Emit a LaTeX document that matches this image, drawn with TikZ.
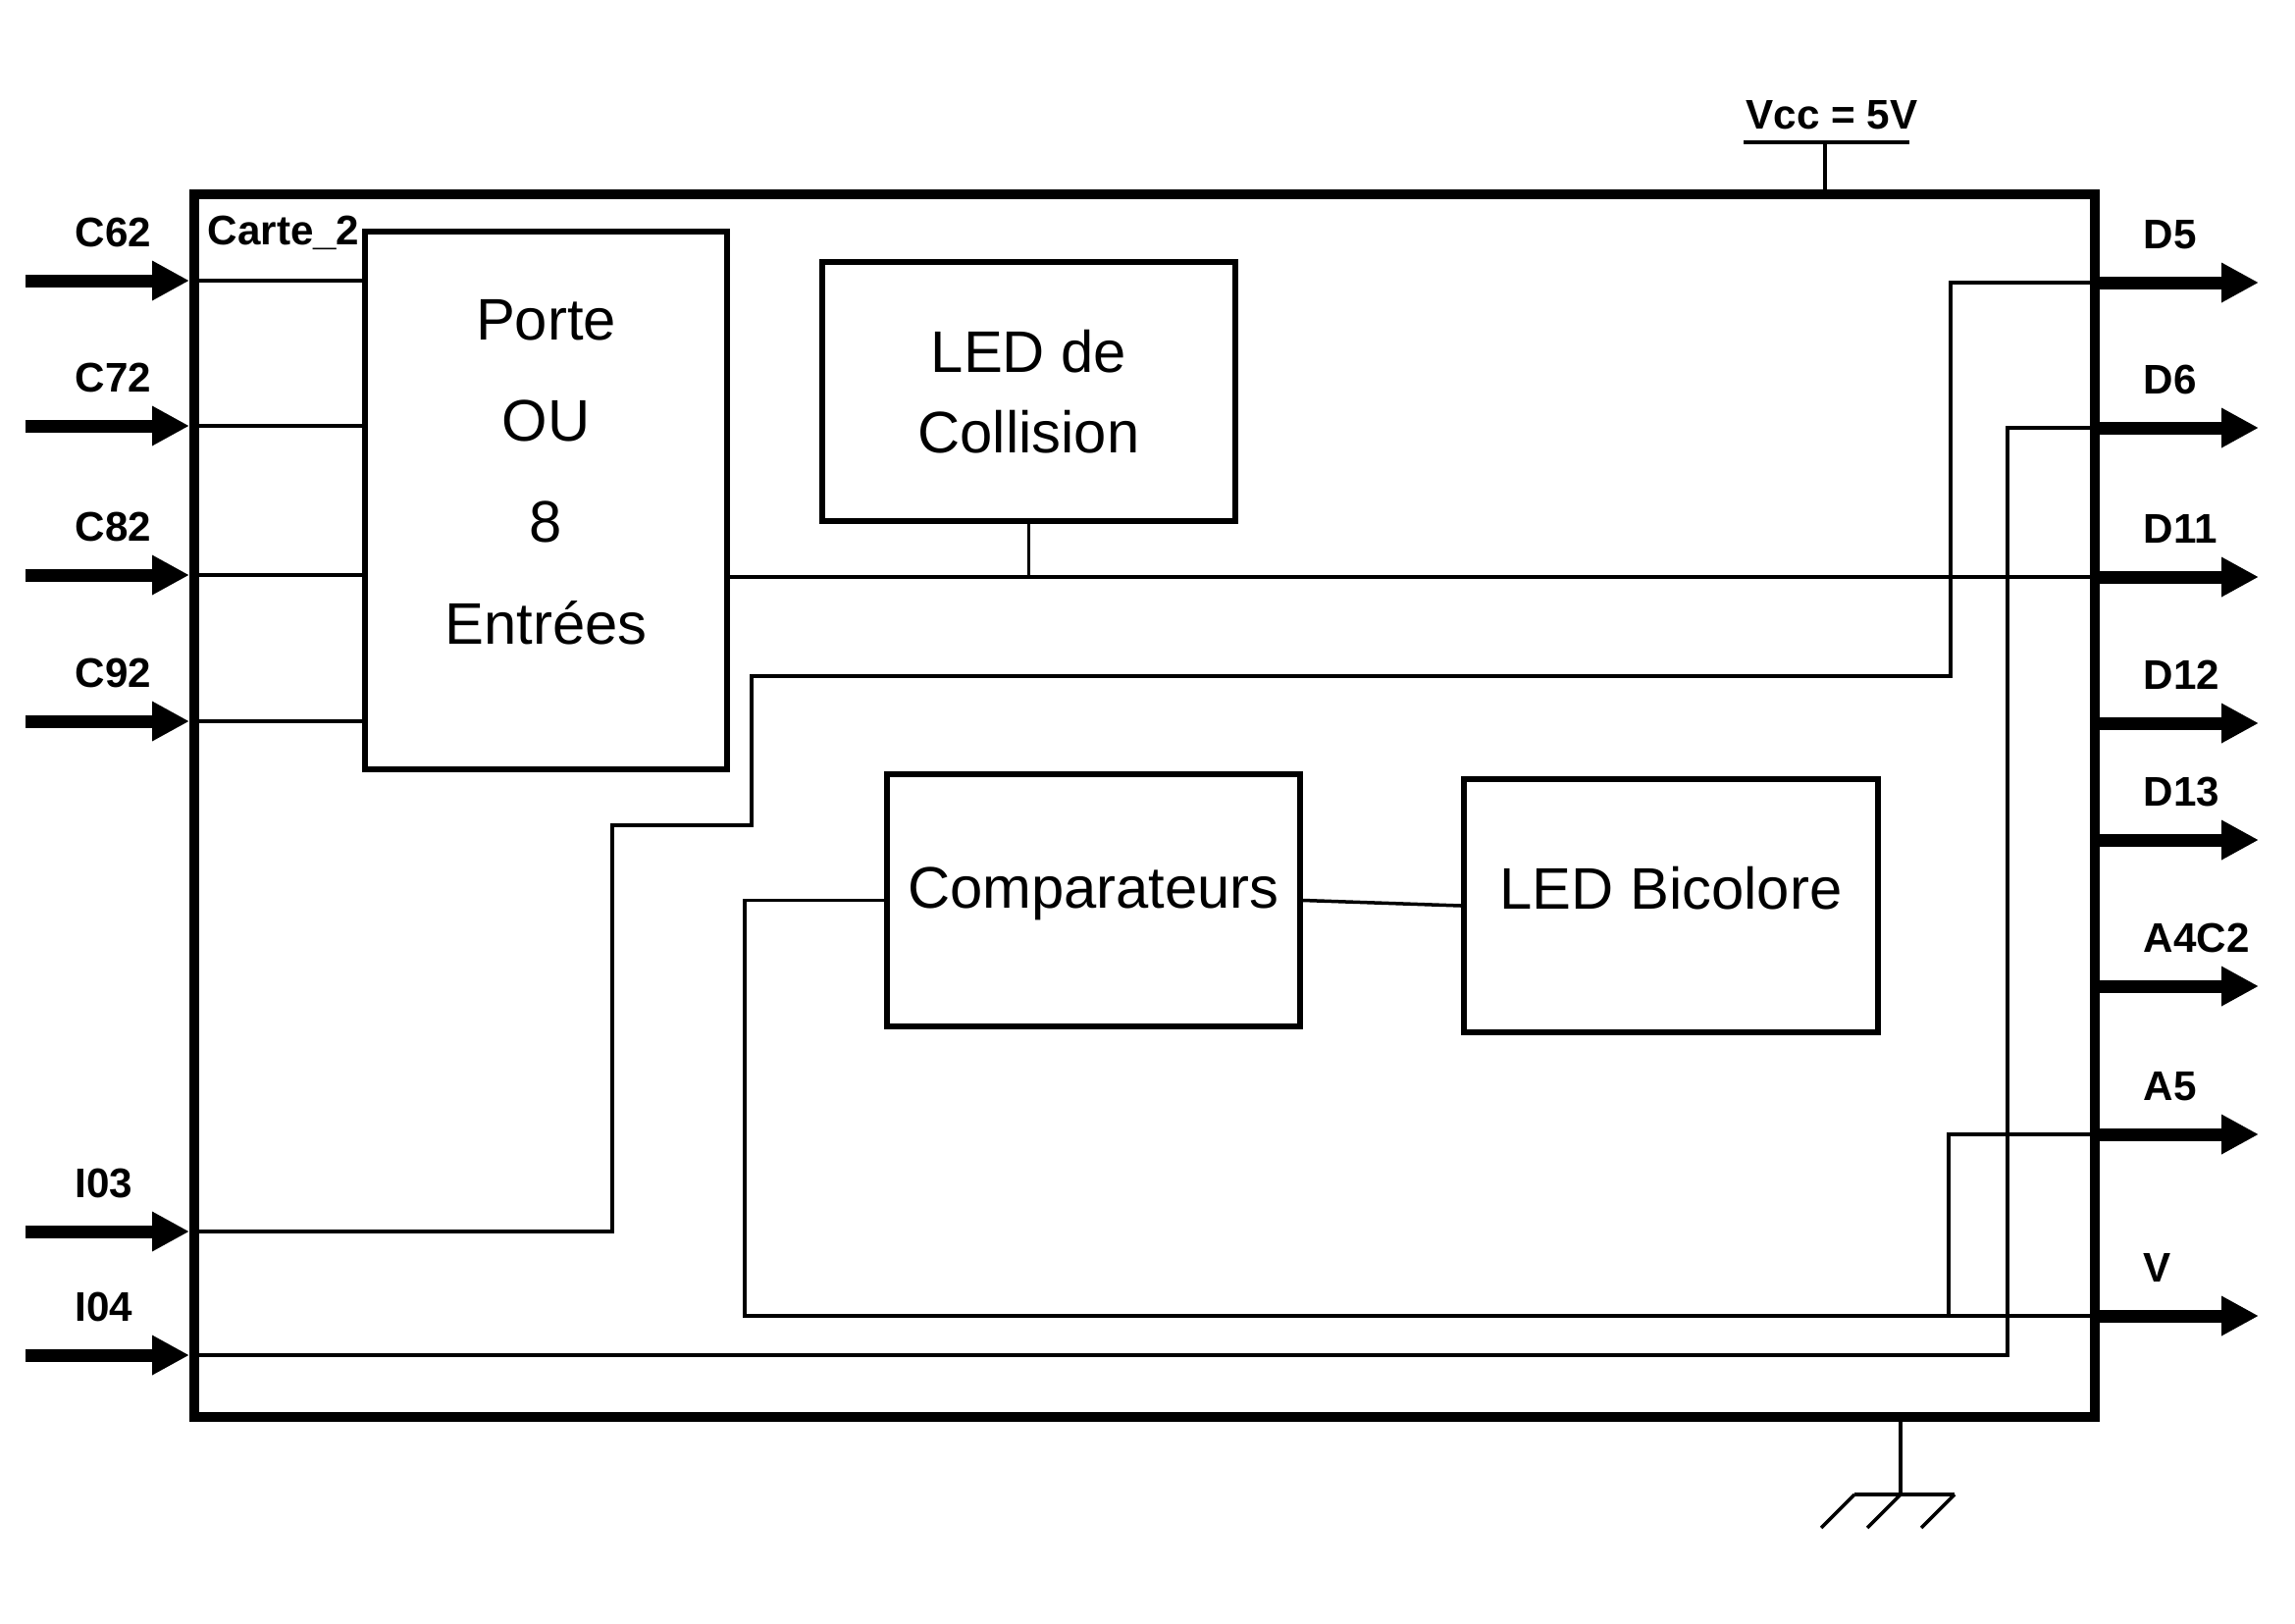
\documentclass[tikz,border=0pt]{standalone}
\usepackage{fontspec}
\setmainfont{Liberation Sans}
\usetikzlibrary{positioning,arrows.meta,calc}

\begin{document}
\begin{tikzpicture}[
    cardFrame/.style={rectangle, draw, line width=1mm, minimum width=19.37cm, minimum height=12.46cm, inner sep=0pt},
    blocBox/.style={rectangle, draw, line width=0.6mm, inner sep=0pt, align=center, font=\fontsize{17}{29.4}\selectfont},
    pinArrow/.style={line width=1.3mm, -{Triangle[length=3.8mm, width=3.8mm]}},
    pinLabel/.style={anchor=base west, inner sep=0pt, font=\fontsize{12}{14}\selectfont\bfseries},
    wire/.style={line width=0.35mm}
]
    \useasboundingbox (0,0) rectangle (23.39,-16.54);

    \node[cardFrame] (carte) at (11.665,-8.21) {};
    \node[pinLabel] (carteName) at (2.11,-2.49) {Carte\_2};

    \node[blocBox, minimum width=3.69cm, minimum height=5.48cm, text depth=0.59cm] (porte) at (5.565,-5.10) {Porte\\OU\\8\\Entrées};
    \node[blocBox, minimum width=4.21cm, minimum height=2.64cm, font=\fontsize{17}{23.3}\selectfont] (ledCol) at (10.485,-3.99) {LED de\\Collision};
    \node[blocBox, minimum width=4.21cm, minimum height=2.57cm, text depth=0.26cm] (comp) at (11.145,-9.175) {Comparateurs};
    \node[blocBox, minimum width=4.22cm, minimum height=2.58cm, text depth=0.36cm] (ledBi) at (17.03,-9.23) {LED Bicolore};

    \foreach \pin/\y in {C62/2.86, C72/4.34, C82/5.86, C92/7.35, I03/12.55, I04/13.81}{
        \coordinate (p\pin) at (0.26,-\y);
        \draw[pinArrow] (p\pin) -- (p\pin -| carte.west);
        \node[pinLabel] (l\pin) at ([shift={(0.50,0.35)}]p\pin) {\pin};
    }
    \foreach \pin/\y in {D5/2.88, D6/4.36, D11/5.88, D12/7.37, D13/8.56, A4C2/10.05, A5/11.56, V/13.41}{
        \coordinate (q\pin) at (23.02,-\y);
        \draw[pinArrow] (q\pin -| carte.east) -- (q\pin);
        \node[pinLabel] (r\pin) at ([shift={(-1.18,0.35)}]q\pin) {\pin};
    }

    \foreach \pin in {C62,C72,C82,C92}
        \draw[wire] (p\pin -| carte.west) -- (p\pin -| porte.west);
    \draw[wire] (porte.east |- qD11) -- (qD11 -| carte.east);
    \draw[wire] (ledCol.south) -- (ledCol.south |- qD11);
    \draw[wire] (pI03 -| carte.west) -- (6.24,-12.55) |- (7.66,-8.41) |- (19.88,-6.89) |- (qD5 -| carte.east);
    \draw[wire] (comp.west) -| (7.59,-13.41) -- (qV -| carte.east);
    \coordinate (tapA5) at (19.86,-13.41);
    \draw[wire] (tapA5) |- (qA5 -| carte.east);
    \draw[wire] (pI04 -| carte.west) -| (20.46,-4.36) -- (qD6 -| carte.east);
    \draw[wire] (comp.east) -- (ledBi.west);

    \node[pinLabel, anchor=base] (vcc) at (18.67,-1.31) {Vcc = 5V};
    \coordinate (vccTap) at (18.60,-1.45);
    \draw[wire, line width=0.45mm] ([xshift=-0.83cm]vccTap) -- ([xshift=0.86cm]vccTap);
    \draw[wire] (vccTap) -- (vccTap |- carte.north);

    \coordinate (gnd) at (19.37,-15.23);
    \draw[wire] (gnd |- carte.south) -- (gnd);
    \draw[wire] ([xshift=-0.47cm]gnd) -- ([xshift=0.55cm]gnd);
    \foreach \dx in {-0.47,0,0.55}
        \draw[wire] ([xshift=\dx cm]gnd) -- ++(-0.34,-0.34);
\end{tikzpicture}
\end{document}
